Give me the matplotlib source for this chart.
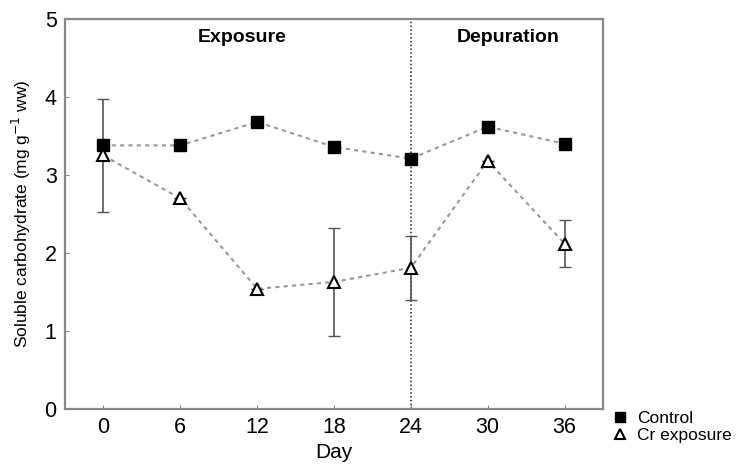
import matplotlib
matplotlib.use("Agg")
import matplotlib.pyplot as plt

days = [0, 6, 12, 18, 24, 30, 36]
control = [3.38, 3.38, 3.68, 3.36, 3.21, 3.62, 3.40]
cr = [3.25, 2.70, 1.54, 1.63, 1.81, 3.18, 2.12]
cr_err = [0.72, 0.0, 0.0, 0.69, 0.41, 0.0, 0.30]
xticks = [0, 6, 12, 18, 24, 30, 36]
yticks = [0, 1, 2, 3, 4, 5]

plt.rcParams['font.family'] = ['Liberation Sans', 'DejaVu Sans']

fig = plt.figure(figsize=(7.38, 4.66), dpi=100)
ax = fig.add_axes([65/738, 57/466, 538/738, 390/466])

ax.axvline(24, color='#222222', linestyle=(0, (1, 1.5)), linewidth=1.1, zorder=1)

ax.errorbar(days, cr, yerr=cr_err, fmt='none', ecolor='#555555', elinewidth=1.2,
            capsize=4, capthick=1.0, zorder=2)
ax.plot(days, control, linestyle=(0, (2, 2)), color='#999999', linewidth=1.5, zorder=3)
ax.plot(days, cr, linestyle=(0, (2, 2)), color='#999999', linewidth=1.5, zorder=3)
hc, = ax.plot(days, control, linestyle='none', marker='s', markersize=9,
              markerfacecolor='black', markeredgecolor='black', zorder=4, label='Control')
ht, = ax.plot(days, cr, linestyle='none', marker='^', markersize=9,
              markerfacecolor='white', markeredgecolor='black', markeredgewidth=1.5,
              zorder=4, label='Cr exposure')

ax.set_xlim(-3, 39)
ax.set_ylim(0, 5)
ax.set_xticks(xticks)
ax.set_yticks(yticks)
ax.tick_params(direction='in', length=3, color='#888888', labelsize=15.5, pad=6)
for s in ax.spines.values():
    s.set_color('#888888')
    s.set_linewidth(1.6)

ax.set_xlabel('Day', fontsize=15, labelpad=3)
ax.set_ylabel('Soluble carbohydrate (mg g$^{-1}$ ww)', fontsize=12.5, labelpad=8)

ax.text(10.8, 4.76, 'Exposure', ha='center', va='center', fontsize=14, fontweight='bold')
ax.text(31.6, 4.76, 'Depuration', ha='center', va='center', fontsize=14, fontweight='bold')

fig.legend(handles=[hc, ht], loc='upper left', bbox_to_anchor=(606/738, 1 - 404/466),
           frameon=False, fontsize=12.5, handlelength=0.8, handletextpad=0.6,
           borderaxespad=0, labelspacing=0.1, markerscale=0.85)

fig.savefig('out.png', dpi=100)
